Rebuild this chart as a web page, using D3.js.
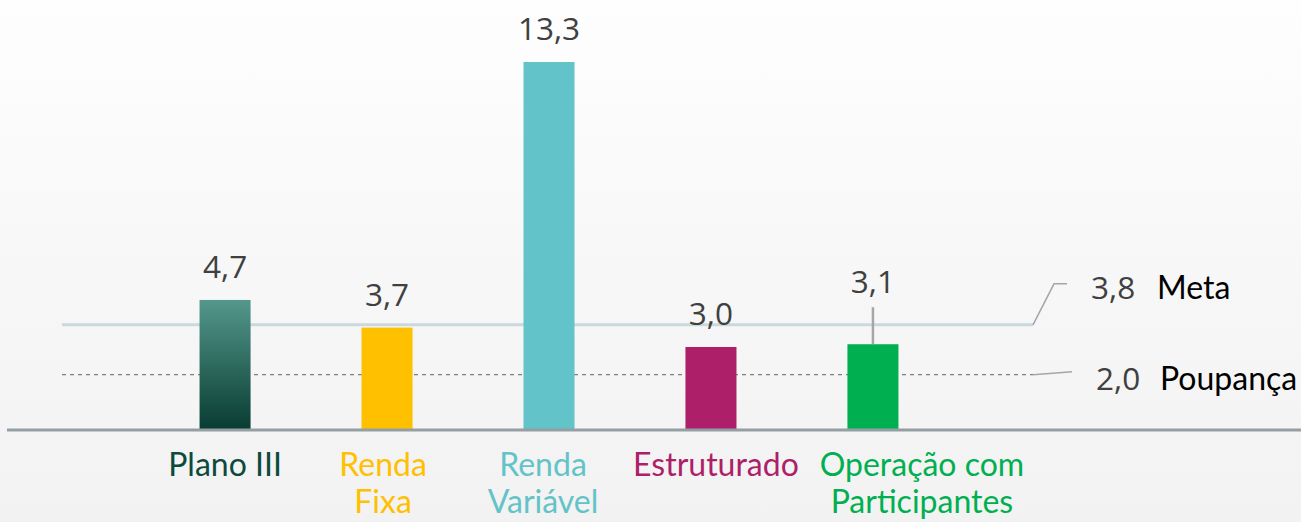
<!DOCTYPE html>
<html><head><meta charset="utf-8">
<script src="https://cdn.jsdelivr.net/npm/d3@7"></script>
<style>html,body{margin:0;padding:0;background:#f6f6f6;}svg{display:block;}</style>
</head><body><svg id="c" width="1301" height="522"></svg>
<script>
const categories = ["Plano III", "Renda Fixa", "Renda Variável", "Estruturado", "Operação com Participantes"];
const labelLines = [["Plano III"], ["Renda", "Fixa"], ["Renda", "Variável"], ["Estruturado"], ["Operação com", "Participantes"]];
const values = [4.7, 3.7, 13.3, 3.0, 3.1];
const valueLabels = ["4,7", "3,7", "13,3", "3,0", "3,1"];
const metaValue = 3.8, metaLabel = "3,8", metaName = "Meta";
const poupValue = 2.0, poupLabel = "2,0", poupName = "Poupança";

const colors = ["url(#g0)", "#ffc000", "#62c3c8", "#ad1f69", "#00b050"];
const textColors = ["#0d4a3e", "#ffc000", "#62c3c8", "#ad1f69", "#00b050"];
const labelDx = [0, -4, -6, 5, 49];
const valueGap = [22, 22, 22, 22, 51];

const svg = d3.select("#c");
const W = 1301, H = 522;
const defs = svg.append("defs");
const bg = defs.append("linearGradient").attr("id","bg").attr("x1",0).attr("y1",0).attr("x2",0).attr("y2",1);
bg.append("stop").attr("offset","0%").attr("stop-color","#fefeff");
bg.append("stop").attr("offset","45%").attr("stop-color","#f8f8f8");
bg.append("stop").attr("offset","100%").attr("stop-color","#f2f2f2");
const g0 = defs.append("linearGradient").attr("id","g0").attr("x1",0).attr("y1",0).attr("x2",0).attr("y2",1);
g0.append("stop").attr("offset","0%").attr("stop-color","#54978b");
g0.append("stop").attr("offset","100%").attr("stop-color","#083c32");
svg.append("rect").attr("width",W).attr("height",H).attr("fill","url(#bg)");

const x = d3.scaleBand().domain(categories).range([144, 954]).paddingInner(0.685).paddingOuter(0.343);
const y = d3.scaleLinear().domain([0, 13.3]).range([430, 62]);

// reference lines
svg.append("line").attr("x1",62).attr("x2",1033).attr("y1",y(metaValue)).attr("y2",y(metaValue))
  .attr("stroke","#c9d9dd").attr("stroke-width",3);
svg.append("line").attr("x1",62).attr("x2",1033).attr("y1",y(poupValue)).attr("y2",y(poupValue))
  .attr("stroke","#7f7f7f").attr("stroke-width",1.3).attr("stroke-dasharray","4,4");

// bars
svg.selectAll("rect.bar").data(values).join("rect").attr("class","bar")
  .attr("x",(d,i)=>x(categories[i])).attr("width",x.bandwidth())
  .attr("y",d=>y(d)).attr("height",d=>y(0)-y(d)).attr("fill",(d,i)=>colors[i]);

// axis
const axis = svg.append("g").attr("transform","translate(0,430)").call(d3.axisBottom(x).tickSize(0).tickFormat(""));
axis.select(".domain").attr("d","M7,0H1301").attr("stroke","#949ea3").attr("stroke-width",3);

// value labels
svg.selectAll("text.val").data(values).join("text").attr("class","val")
  .attr("x",(d,i)=>x(categories[i])+x.bandwidth()/2).attr("y",(d,i)=>y(d)-valueGap[i])
  .attr("text-anchor","middle").attr("font-family","Open Sans").attr("font-size",31.5).attr("fill","#404040")
  .text((d,i)=>valueLabels[i]);
// leader for last
{ const i=4; const cx=x(categories[i])+x.bandwidth()/2;
  svg.append("line").attr("x1",cx).attr("x2",cx).attr("y1",y(values[i])-37).attr("y2",y(values[i]))
   .attr("stroke","#a6a6a6").attr("stroke-width",2.5); }

// category labels
const cl = svg.selectAll("text.cat").data(labelLines).join("text").attr("class","cat")
  .attr("text-anchor","middle").attr("font-family","Lato").attr("font-size",32)
  .attr("fill",(d,i)=>textColors[i]);
cl.each(function(lines,i){
  const cx = x(categories[i])+x.bandwidth()/2+labelDx[i];
  d3.select(this).selectAll("tspan").data(lines).join("tspan").attr("x",cx)
    .attr("y",(d,j)=>476+j*37).text(d=>d);
});

// right annotations
const ym = y(metaValue), yp = y(poupValue);
svg.append("path").attr("d",`M1033,${ym}L1054,${ym-41}H1067`).attr("fill","none").attr("stroke","#a6a6a6").attr("stroke-width",1.5);
svg.append("path").attr("d",`M1033,${yp}L1072,${yp-3}`).attr("fill","none").attr("stroke","#a6a6a6").attr("stroke-width",1.5);
svg.append("text").attr("x",1091).attr("y",ym-26).attr("font-family","Open Sans").attr("font-size",31.5).attr("fill","#404040").text(metaLabel);
svg.append("text").attr("x",1157).attr("y",ym-26).attr("font-family","Lato").attr("font-size",32).attr("fill","#000").text(metaName);
svg.append("text").attr("x",1096).attr("y",yp+15).attr("font-family","Open Sans").attr("font-size",31.5).attr("fill","#404040").text(poupLabel);
svg.append("text").attr("x",1160).attr("y",yp+15).attr("font-family","Lato").attr("font-size",32).attr("fill","#000").text(poupName);
</script></body></html>
